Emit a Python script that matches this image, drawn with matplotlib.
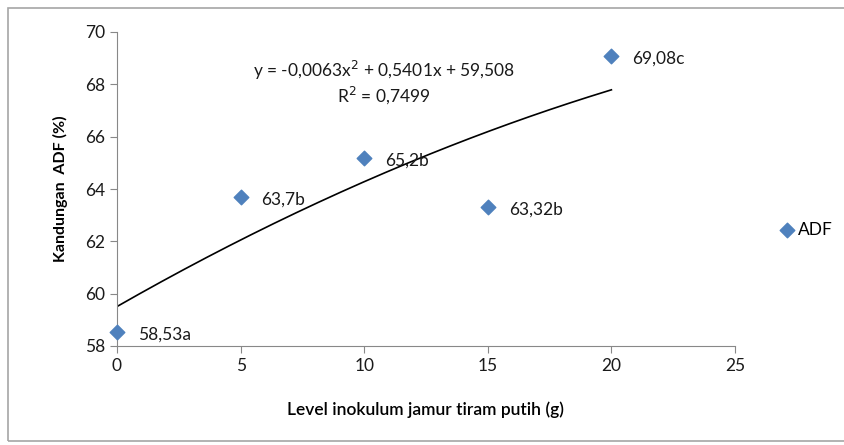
import matplotlib
matplotlib.use("Agg")
import matplotlib.pyplot as plt
import numpy as np
from matplotlib.patches import Rectangle

x_levels = [0, 5, 10, 15, 20]
adf_values = [58.53, 63.7, 65.2, 63.32, 69.08]
point_labels = ["58,53a", "63,7b", "65,2b", "63,32b", "69,08c"]
trend_coef = [-0.0063, 0.5401, 59.508]
x_ticks = [0, 5, 10, 15, 20, 25]
y_ticks = [58, 60, 62, 64, 66, 68, 70]

plt.rcParams['font.family'] = ['Lato', 'DejaVu Sans']

fig = plt.figure(figsize=(8.45, 4.45), dpi=100)
fig.patches.append(Rectangle((8/845, 4/445), 1.0, 1 - 12/445, transform=fig.transFigure,
                             fill=False, edgecolor='#A6A6A6', linewidth=1.2))
ax = fig.add_axes([117/845, 1 - 346/445, (735 - 117)/845, (346 - 32)/445])

xs = np.linspace(0, 20, 200)
ax.plot(xs, np.polyval(trend_coef, xs), color='black', lw=1.2, zorder=2)
ax.scatter(x_levels, adf_values, marker='D', s=55, color='#4F81BD', zorder=3, clip_on=False)
for xv, yv, lab in zip(x_levels, adf_values, point_labels):
    ax.annotate(lab, (xv, yv), xytext=(15, -2), textcoords='offset points',
                fontsize=12.5, color='#1a1a1a', va='center', ha='left')

ax.text(0.432, 0.84, "y = -0,0063x$^2$ + 0,5401x + 59,508\nR$^2$ = 0,7499",
        transform=ax.transAxes, ha='center', va='center', fontsize=12.5,
        linespacing=1.15, color='#1a1a1a')

ax.set_xlim(0, 25)
ax.set_ylim(58, 70)
ax.set_xticks(x_ticks)
ax.set_yticks(y_ticks)
for s in ['top', 'right']:
    ax.spines[s].set_visible(False)
for s in ['left', 'bottom']:
    ax.spines[s].set_color('#888888')
ax.tick_params(direction='out', length=5, color='#888888', labelsize=12.5, labelcolor='#1a1a1a')
ax.set_xlabel("Level inokulum jamur tiram putih (g)", fontsize=12.5, fontweight='semibold', labelpad=20)
ax.set_ylabel("Kandungan  ADF (%)", fontsize=11.5, fontweight='bold', labelpad=12)

# legend
ax.scatter([], [], marker='D', s=55, color='#4F81BD', label='ADF')
ax.legend(loc='center left', bbox_to_anchor=(1.045, 0.37), frameon=False, fontsize=12.5,
          handletextpad=0.1, handlelength=1.0, scatterpoints=1)

fig.savefig("out.png", dpi=100)
